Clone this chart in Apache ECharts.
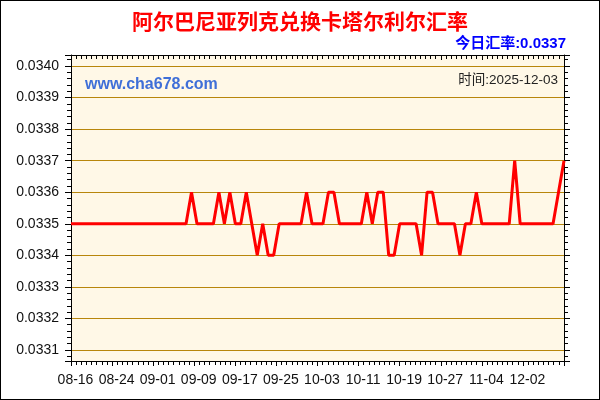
<!DOCTYPE html>
<html>
<head>
<meta charset="utf-8">
<script src="https://cdn.jsdelivr.net/npm/echarts@6/dist/echarts.min.js"></script>
<style>
html,body{margin:0;padding:0;background:#fff;}
#c{width:600px;height:400px;box-sizing:border-box;}
#frame{position:absolute;left:0;top:0;width:598px;height:398px;border:1px solid #000;pointer-events:none;}
</style>
</head>
<body>
<div id="c"></div>
<div id="frame"></div>
<script>
// point index labels (dates of individual points are not printed on the chart)
const pointIndex = [];
for (let i = 1; i <= 91; i++) pointIndex.push(String(i));

// x-axis tick labels, evenly spaced along the bottom axis
const tickLabels = ['08-16','08-24','09-01','09-09','09-17','09-25','10-03','10-11','10-19','10-27','11-04','12-02',''];

// exchange-rate values
const rates = [
  0.0335,0.0335,0.0335,0.0335,0.0335,0.0335,0.0335,0.0335,0.0335,0.0335,
  0.0335,0.0335,0.0335,0.0335,0.0335,0.0335,0.0335,0.0335,0.0335,0.0335,
  0.0335,0.0335,0.0336,0.0335,0.0335,0.0335,0.0335,0.0336,0.0335,0.0336,
  0.0335,0.0335,0.0336,0.0335,0.0334,0.0335,0.0334,0.0334,0.0335,0.0335,
  0.0335,0.0335,0.0335,0.0336,0.0335,0.0335,0.0335,0.0336,0.0336,0.0335,
  0.0335,0.0335,0.0335,0.0335,0.0336,0.0335,0.0336,0.0336,0.0334,0.0334,
  0.0335,0.0335,0.0335,0.0335,0.0334,0.0336,0.0336,0.0335,0.0335,0.0335,
  0.0335,0.0334,0.0335,0.0335,0.0336,0.0335,0.0335,0.0335,0.0335,0.0335,
  0.0335,0.0337,0.0335,0.0335,0.0335,0.0335,0.0335,0.0335,0.0335,0.0336,0.0337
];

const titleText = '阿尔巴尼亚列克兑换卡塔尔利尔汇率';
const todayText = '今日汇率:0.0337';
const siteText = 'www.cha678.com';
const timeText = '时间:2025-12-03';

const yMin = 0.033065, yMax = 0.034035;
const gridColor = '#B8860B';
const latin = '"Liberation Sans", Arial, sans-serif';
const cjk = '"Noto Sans CJK SC", sans-serif';

const chart = echarts.init(document.getElementById('c'), null, {renderer: 'canvas'});
chart.setOption({
  animation: false,
  backgroundColor: '#ffffff',
  title: {
    text: titleText,
    left: 'center',
    top: 6,
    textStyle: {color: '#FF0000', fontSize: 21, fontWeight: 'bold', fontFamily: cjk}
  },
  graphic: [
    {type: 'text', right: 34, top: 36, style: {text: todayText, fill: '#0000FF', font: 'bold 15px "Liberation Sans", "Noto Sans CJK SC", sans-serif'}},
    {type: 'text', left: 85, top: 77, style: {text: siteText, fill: '#3F6FD8', font: 'bold 16px ' + latin}},
    {type: 'text', right: 42, top: 74, style: {text: timeText, fill: '#222222', font: '13.5px "Liberation Sans", "Noto Sans CJK SC", sans-serif'}}
  ],
  grid: {
    left: 71, right: 36, top: 55, bottom: 39,
    show: true, backgroundColor: '#FFF8E7', borderWidth: 0
  },
  xAxis: [
    {
      type: 'category', data: pointIndex, boundaryGap: false, show: false
    },
    {
      type: 'value', min: 0, max: 12, interval: 1, position: 'bottom',
      axisLine: {show: true, onZero: false, lineStyle: {color: '#000', width: 1}},
      axisTick: {show: true, length: 5, lineStyle: {color: '#000'}},
      minorTick: {show: true, splitNumber: 8, length: 4, lineStyle: {color: '#000'}},
      axisLabel: {
        margin: 12, color: '#111', fontSize: 14, fontFamily: latin,
        align: 'center', padding: [0, 0, 0, 9],
        formatter: v => tickLabels[Math.round(v)] || ''
      },
      splitLine: {show: false}
    },
    {
      type: 'value', min: 0, max: 12, interval: 1, position: 'top',
      axisLine: {show: true, onZero: false, lineStyle: {color: '#000', width: 1}},
      axisTick: {show: true, inside: true, length: 5, lineStyle: {color: '#000'}},
      minorTick: {show: true, splitNumber: 8, length: 4, lineStyle: {color: '#000'}},
      axisLabel: {show: false},
      splitLine: {show: false}
    }
  ],
  yAxis: [
    {
      type: 'value', min: yMin, max: yMax, splitNumber: 10, position: 'left',
      axisLine: {show: true, onZero: false, lineStyle: {color: '#000', width: 1}},
      axisTick: {show: true, length: 6, lineStyle: {color: '#000'}},
      minorTick: {show: true, splitNumber: 5, length: 4, lineStyle: {color: '#000'}},
      axisLabel: {
        margin: 12, color: '#111', fontSize: 14, fontFamily: latin,
        showMinLabel: false, showMaxLabel: false,
        formatter: v => v.toFixed(4)
      },
      splitLine: {show: true, showMinLine: false, showMaxLine: false, lineStyle: {color: gridColor, width: 1}}
    },
    {
      type: 'value', min: yMin, max: yMax, splitNumber: 10, position: 'right',
      axisLine: {show: true, onZero: false, lineStyle: {color: '#000', width: 1}},
      axisTick: {show: true, length: 6, lineStyle: {color: '#000'}},
      minorTick: {show: true, splitNumber: 5, length: 4, lineStyle: {color: '#000'}},
      axisLabel: {show: false},
      splitLine: {show: false}
    }
  ],
  series: [{
    type: 'line',
    xAxisIndex: 0,
    yAxisIndex: 0,
    data: rates,
    showSymbol: false,
    lineStyle: {color: '#FF0000', width: 3},
    z: 5
  }]
});
</script>
</body>
</html>
